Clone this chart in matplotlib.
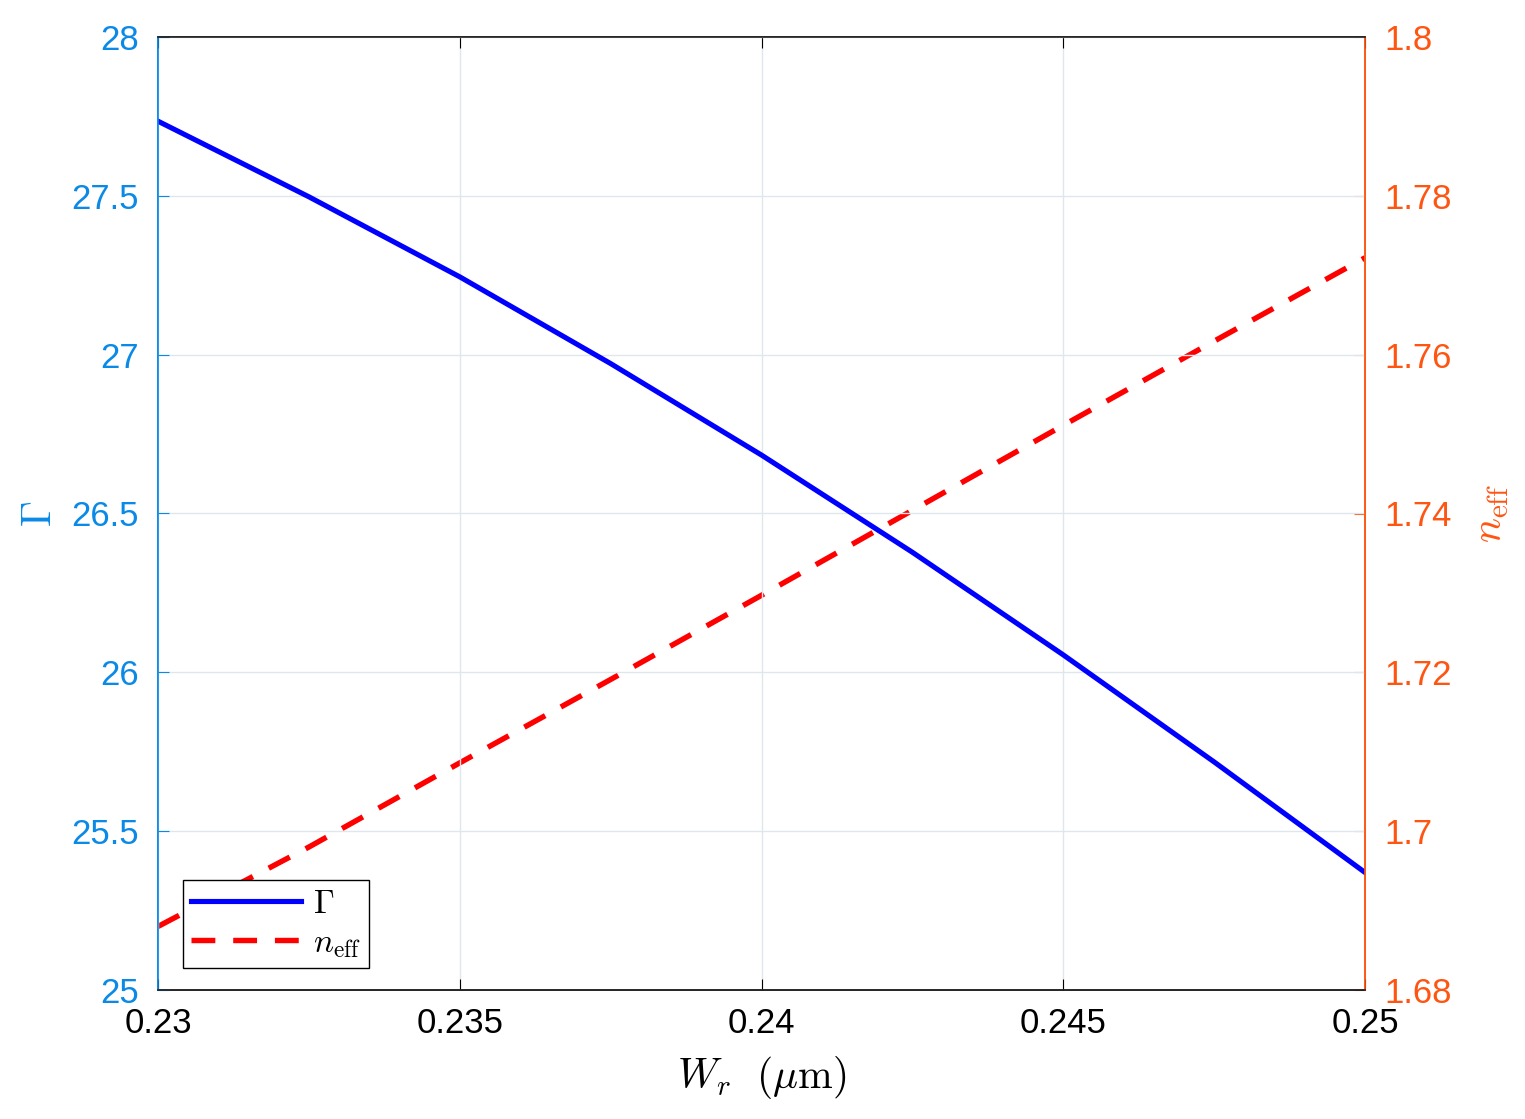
import matplotlib
matplotlib.use("Agg")
import matplotlib.pyplot as plt

plt.rcParams['font.family'] = ['Liberation Sans', 'DejaVu Sans']
plt.rcParams['mathtext.fontset'] = 'cm'

# Data
wr = [0.23, 0.2325, 0.235, 0.2375, 0.24, 0.2425, 0.245, 0.2475, 0.25]
gamma = [27.735, 27.497, 27.245, 26.972, 26.684, 26.378, 26.055, 25.718, 25.37]
neff = [1.688, 1.698, 1.7086, 1.7191, 1.7297, 1.7404, 1.7511, 1.7617, 1.7722]

x_ticks = [0.23, 0.235, 0.24, 0.245, 0.25]
x_ticklabels = ['0.23', '0.235', '0.24', '0.245', '0.25']
g_ticks = [25, 25.5, 26, 26.5, 27, 27.5, 28]
g_ticklabels = ['25', '25.5', '26', '26.5', '27', '27.5', '28']
n_ticks = [1.68, 1.70, 1.72, 1.74, 1.76, 1.78, 1.80]
n_ticklabels = ['1.68', '1.7', '1.72', '1.74', '1.76', '1.78', '1.8']

left_color = '#0a8ae6'
right_color = '#ff5512'

fig = plt.figure(figsize=(15.25, 11.19), dpi=100)
ax = fig.add_axes([158/1525, 1 - 990/1119, (1365-158)/1525, (990-37)/1119])
ax2 = ax.twinx()

l1, = ax.plot(wr, gamma, color='#0000ff', lw=3.7, label=r'$\Gamma$')
l2, = ax2.plot(wr, neff, color='#ff0000', lw=3.9, ls=(0, (4.4, 3.3)),
               dash_capstyle='butt', label=r'$n_{\rm eff}$')

ax.set_xlim(0.23, 0.25)
ax.set_ylim(25, 28)
ax2.set_ylim(1.68, 1.80)
ax.set_xticks(x_ticks)
ax.set_xticklabels(x_ticklabels)
ax.set_yticks(g_ticks)
ax.set_yticklabels(g_ticklabels)
ax2.set_yticks(n_ticks)
ax2.set_yticklabels(n_ticklabels)

ax.grid(True, color='#dfe6ee', lw=1.0)
ax.set_axisbelow(True)

fs = 25
ax.tick_params(axis='x', direction='in', length=8, labelsize=fs, colors='black', pad=12, top=True)
ax.tick_params(axis='y', direction='in', length=8, labelsize=fs, colors=left_color, pad=14)
ax2.tick_params(axis='y', direction='in', length=8, labelsize=fs, colors=right_color, pad=14)

for a in (ax, ax2):
    a.spines['top'].set_color('#222222')
    a.spines['bottom'].set_color('#222222')
    a.spines['left'].set_color(left_color)
    a.spines['right'].set_color(right_color)
    for s in a.spines.values():
        s.set_linewidth(1.2)

ax.set_xlabel(r'$W_r\ \ (\mu{\rm m})$', fontsize=30, labelpad=10)
ax.set_ylabel(r'$\Gamma$', fontsize=30, color=left_color, labelpad=8)
ax2.set_ylabel(r'$n_{\rm eff}$', fontsize=30, color=right_color, labelpad=14)

ax.set_zorder(ax2.get_zorder() + 1)
ax.patch.set_visible(False)

leg = ax.legend(handles=[l1, l2], loc='lower left', bbox_to_anchor=(0.0207, 0.023),
                fontsize=24, frameon=True, fancybox=False, shadow=False, framealpha=1.0,
                handlelength=3.3, borderpad=0.25, labelspacing=0.25, handletextpad=0.35,
                borderaxespad=0)
leg.get_frame().set_edgecolor('black')
leg.get_frame().set_linewidth(1.0)

fig.savefig('out.png', dpi=100)
